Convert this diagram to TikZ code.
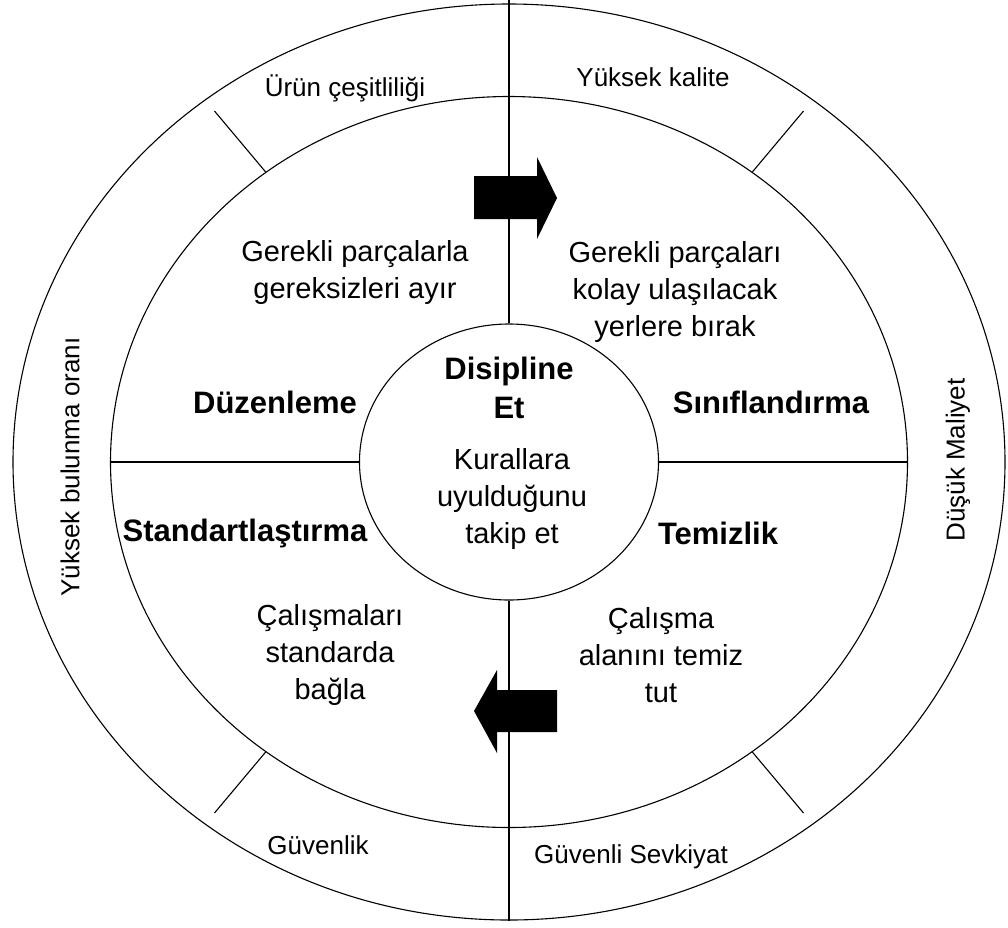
\documentclass[tikz,border=0pt]{standalone}
\usepackage{fontspec}
\setmainfont{Liberation Sans}
\usetikzlibrary{shapes.geometric,calc}

\tikzset{
	ring/.style={draw, ellipse, inner sep=0pt, line width=1.1pt},
	ringlabel/.style={font=\fontsize{26}{32}\selectfont},
	bodytext/.style={align=center, font=\fontsize{29}{37}\selectfont},
	stage/.style={font=\fontsize{31}{39}\selectfont\bfseries},
	divider/.style={line width=1.1pt},
	flow/.style={fill=black}
}

\begin{document}
\begin{tikzpicture}[x=1pt,y=-1pt]
	\useasboundingbox (0,0) rectangle (1008,927);

	\node[ring, minimum width=992pt, minimum height=916pt] (outer) at (509,462) {};
	\node[ring, minimum width=797pt, minimum height=731pt] (inner) at (509,462) {};
	\node[ring, minimum width=299pt, minimum height=276pt] (core) at (509,462) {};

	\coordinate (top) at (509,0);
	\draw[divider] (top) -- (core.north);
	\draw[divider] (core.south) -- (outer.south);
	\draw[divider] (inner.west) -- (core.west);
	\draw[divider] (core.east) -- (inner.east);

	% ring ticks
	\foreach \a in {50,130,230,310}{
		\coordinate (tick\a) at ($(inner.center)!1.21!(inner.\a)$);
		\draw[divider] (inner.\a) -- (tick\a);
	}

	% ring texts
	\node[ringlabel] (variety) at (345,88) {Ürün çeşitliliği};
	\node[ringlabel] (quality) at (653,77) {Yüksek kalite};
	\node[ringlabel] (safety) at (318,845) {Güvenlik};
	\node[ringlabel] (shipping) at (631,857) {Güvenli Sevkiyat};
	\node[ringlabel, rotate=90] (availability) at (70,467) {Yüksek bulunma oranı};
	\node[ringlabel, rotate=90] (cost) at (958,460) {Düşük Maliyet};

	% quarters
	\node[bodytext] (sortnote) at (355,272) {Gerekli parçalarla\\gereksizleri ayır};
	\node[bodytext] (ordernote) at (675,292) {Gerekli parçaları\\kolay ulaşılacak\\yerlere bırak};
	\node[stage] (sort) at (275,402) {Düzenleme};
	\node[stage] (order) at (771,402) {Sınıflandırma};
	\node[stage] (standard) at (245,533) {Standartlaştırma};
	\node[stage] (shine) at (718,533) {Temizlik};
	\node[bodytext] (standardnote) at (330,655) {Çalışmaları\\standarda\\bağla};
	\node[bodytext] (shinenote) at (661,655) {Çalışma\\alanını temiz\\tut};

	% center
	\node[stage, align=center] (discipline) at (509,388) {Disipline\\Et};
	\node[bodytext] (disciplinenote) at (512,499) {Kurallara\\uyulduğunu\\takip et};

	% arrows
	\fill[flow] (474,176) -- (537,176) -- (537,157) -- (557,198) -- (537,239) -- (537,219) -- (474,219) -- cycle;
	\fill[flow] (557,690) -- (497,690) -- (497,670) -- (474,711) -- (497,753) -- (497,732) -- (557,732) -- cycle;
\end{tikzpicture}
\end{document}
